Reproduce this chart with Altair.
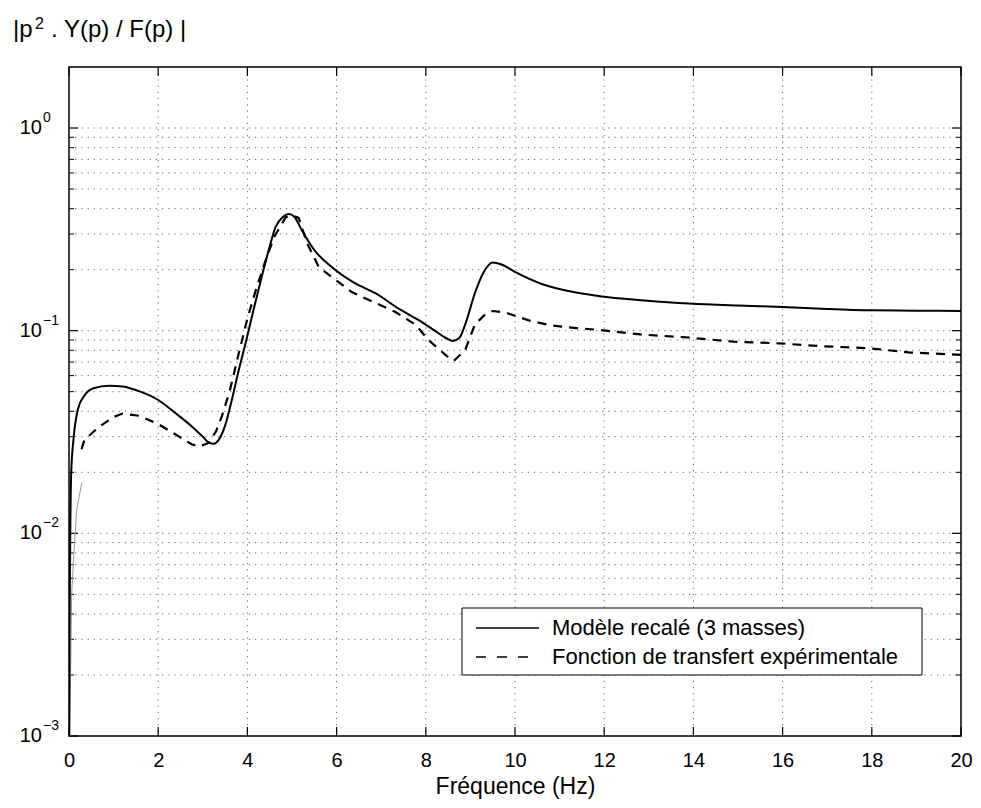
import altair as alt
import pandas as pd

# ---------------- data ----------------
freq_model = [0.005, 0.012, 0.02, 0.03, 0.05, 0.1, 0.2, 0.35, 0.55, 0.9, 1.2, 1.6, 2.0, 2.4, 2.76,
              3.0, 3.15, 3.25, 3.36, 3.5, 3.65, 3.8, 3.96, 4.15, 4.32, 4.5, 4.63, 4.8, 4.93, 5.05,
              5.22, 5.5, 5.89, 6.4, 6.87, 7.4, 7.83, 8.2, 8.45, 8.6, 8.75, 8.9, 9.1, 9.3, 9.5, 9.7,
              10.0, 10.6, 11.2, 11.9, 12.9, 13.9, 15.0, 16.0, 17.0, 18.0, 19.0, 20.0]
mag_model = [0.001, 0.003, 0.006, 0.011, 0.02, 0.029, 0.041, 0.048, 0.052, 0.0535, 0.053, 0.050,
             0.0455, 0.039, 0.0336, 0.030, 0.0279, 0.0277, 0.029, 0.034, 0.0455, 0.063, 0.087,
             0.13, 0.184, 0.26, 0.324, 0.365, 0.376, 0.365, 0.313, 0.25, 0.206, 0.172, 0.153,
             0.128, 0.113, 0.100, 0.092, 0.089, 0.092, 0.11, 0.153, 0.195, 0.217, 0.212, 0.195,
             0.170, 0.157, 0.148, 0.141, 0.136, 0.133, 0.131, 0.128, 0.126, 0.1255, 0.125]

freq_exp = [0.28, 0.35, 0.68, 1.0, 1.2, 1.58, 2.02, 2.47, 2.75, 2.92, 3.14, 3.3, 3.43, 3.6, 3.81,
            4.0, 4.19, 4.41, 4.6, 4.86, 5.0, 5.15, 5.34, 5.6, 5.98, 6.34, 6.87, 7.31, 7.77, 8.06,
            8.5, 8.63, 8.88, 9.1, 9.34, 9.5, 9.78, 10.33, 10.82, 11.38, 11.85, 12.81, 13.84,
            14.89, 15.92, 16.88, 17.91, 18.87, 20.0]
mag_exp = [0.026, 0.029, 0.0336, 0.0375, 0.039, 0.038, 0.0344, 0.030, 0.0275, 0.0268, 0.028,
           0.032, 0.038, 0.05, 0.0778, 0.115, 0.159, 0.223, 0.29, 0.363, 0.37, 0.36, 0.27, 0.206,
           0.178, 0.155, 0.137, 0.124, 0.107, 0.090, 0.074, 0.071, 0.08, 0.107, 0.121, 0.125,
           0.123, 0.112, 0.106, 0.103, 0.101, 0.0958, 0.0927, 0.0883, 0.0866, 0.0838, 0.082,
           0.078, 0.076]

freq_low = [0.015, 0.04, 0.06, 0.1, 0.17, 0.29]
mag_low = [0.001, 0.0024, 0.005, 0.0074, 0.013, 0.0178]

series_names = ["Modèle recalé (3 masses)", "Fonction de transfert expérimentale"]

x_ticks = [0, 2, 4, 6, 8, 10, 12, 14, 16, 18, 20]
x_grid = [2, 4, 6, 8, 10, 12, 14, 16, 18]
y_major = [0.001, 0.01, 0.1, 1]
y_major_exp = ["−3", "−2", "−1", "0"]
y_minor = [0.002, 0.003, 0.004, 0.005, 0.006, 0.007, 0.008, 0.009,
           0.02, 0.03, 0.04, 0.05, 0.06, 0.07, 0.08, 0.09,
           0.2, 0.3, 0.4, 0.5, 0.6, 0.7, 0.8, 0.9]

title_parts = ["|p", "2", ". Y(p) / F(p) |"]
x_title = "Fréquence (Hz)"

# ---------------- layout ----------------
W, H = 892, 669
FONT = "Liberation Sans"
GRID = "#666666"
DOT = [1.2, 5]

df_model = pd.DataFrame({"f": freq_model, "m": mag_model})
df_exp = pd.DataFrame({"f": freq_exp, "m": mag_exp})
df_low = pd.DataFrame({"f": freq_low, "m": mag_low})
df_xt = pd.DataFrame({"f": x_ticks})
df_xg = pd.DataFrame({"f": x_grid})
df_ymaj = pd.DataFrame({"m": y_major, "e": y_major_exp})
df_ymin = pd.DataFrame({"m": y_minor})
df_ygrid = pd.DataFrame({"m": y_minor + y_major[1:]})
one = pd.DataFrame({"k": [0]})

xscale = alt.Scale(domain=[0, 20], nice=False, zero=False)
yscale = alt.Scale(type="log", domain=[0.001, 2], nice=False)

xaxis = alt.Axis(values=x_ticks, format="d", grid=False, domain=False, ticks=False,
                 labelFont=FONT, labelFontSize=20, labelColor="black", labelPadding=30,
                 labelBaseline="alphabetic", labelFlush=False,
                 titleFont=FONT, titleFontSize=23, titleFontWeight="normal", titleColor="black",
                 titleBaseline="alphabetic", titleY=57)

X = alt.X("f:Q", scale=xscale, axis=xaxis, title=x_title)
Y = alt.Y("m:Q", scale=yscale, axis=None)

# grids
vgrid = alt.Chart(df_xg).mark_rule(color=GRID, strokeDash=DOT, strokeWidth=1).encode(
    x=X, y=alt.value(0), y2=alt.value(H))
hgrid = alt.Chart(df_ygrid).mark_rule(color=GRID, strokeDash=DOT, strokeWidth=1).encode(
    y=Y, x=alt.value(0), x2=alt.value(W))

# inward ticks
xt_bot = alt.Chart(df_xt).mark_rule(color="black", strokeWidth=1.2).encode(
    x=X, y=alt.value(H), y2=alt.value(H - 9))
xt_top = alt.Chart(df_xt).mark_rule(color="black", strokeWidth=1.2).encode(
    x=X, y=alt.value(0), y2=alt.value(9))
yt_l = alt.Chart(df_ymaj).mark_rule(color="black", strokeWidth=1.2).encode(
    y=Y, x=alt.value(0), x2=alt.value(9))
yt_r = alt.Chart(df_ymaj).mark_rule(color="black", strokeWidth=1.2).encode(
    y=Y, x=alt.value(W), x2=alt.value(W - 9))
ym_l = alt.Chart(df_ymin).mark_rule(color="black", strokeWidth=1).encode(
    y=Y, x=alt.value(0), x2=alt.value(5))
ym_r = alt.Chart(df_ymin).mark_rule(color="black", strokeWidth=1).encode(
    y=Y, x=alt.value(W), x2=alt.value(W - 5))

# y tick labels 10^k
ylab = alt.Chart(df_ymaj).mark_text(align="right", baseline="middle", font=FONT,
                                     fontSize=20, color="black").encode(
    y=Y, x=alt.value(-27), text=alt.value("10"))
yexp = alt.Chart(df_ymaj).mark_text(align="left", baseline="middle", font=FONT,
                                     fontSize=14, color="black", dy=-10).encode(
    y=Y, x=alt.value(-26), text="e:N")

# curves
low = alt.Chart(df_low).mark_line(color="#9a9a9a", strokeWidth=1, clip=True).encode(x=X, y=Y)
exp = alt.Chart(df_exp).mark_line(color="black", strokeWidth=2.2, strokeDash=[9, 7],
                                  clip=True).encode(x=X, y=Y)
model = alt.Chart(df_model).mark_line(color="black", strokeWidth=2, clip=True,
                                      interpolate="monotone").encode(x=X, y=Y)

# legend (box + samples + labels)
leg_box = alt.Chart(one).mark_rect(fill="white", stroke="black", strokeWidth=1).encode(
    x=alt.value(393), x2=alt.value(853), y=alt.value(541), y2=alt.value(608))
leg_l1 = alt.Chart(one).mark_rule(color="black", strokeWidth=1.5).encode(
    x=alt.value(407), x2=alt.value(470), y=alt.value(561))
leg_l2 = alt.Chart(one).mark_rule(color="black", strokeWidth=1.5, strokeDash=[10, 11]).encode(
    x=alt.value(407), x2=alt.value(470), y=alt.value(590))
leg_t1 = alt.Chart(one).mark_text(align="left", baseline="middle", font=FONT, fontSize=22,
                                   color="black").encode(
    x=alt.value(483), y=alt.value(561), text=alt.value(series_names[0]))
leg_t2 = alt.Chart(one).mark_text(align="left", baseline="middle", font=FONT, fontSize=22,
                                   color="black").encode(
    x=alt.value(483), y=alt.value(590), text=alt.value(series_names[1]))

# axis title at top-left: |p^2 . Y(p) / F(p)|
t1 = alt.Chart(one).mark_text(align="left", baseline="alphabetic", font=FONT, fontSize=24,
                               color="black").encode(
    x=alt.value(-56), y=alt.value(-30), text=alt.value(title_parts[0]))
t2 = alt.Chart(one).mark_text(align="left", baseline="alphabetic", font=FONT, fontSize=16,
                               color="black").encode(
    x=alt.value(-34), y=alt.value(-38), text=alt.value(title_parts[1]))
t3 = alt.Chart(one).mark_text(align="left", baseline="alphabetic", font=FONT, fontSize=24,
                               color="black").encode(
    x=alt.value(-18), y=alt.value(-30), text=alt.value(title_parts[2]))

chart = alt.layer(
    vgrid, hgrid, xt_bot, xt_top, yt_l, yt_r, ym_l, ym_r, ylab, yexp,
    low, exp, model, leg_box, leg_l1, leg_l2, leg_t1, leg_t2, t1, t2, t3
).properties(
    width=W, height=H,
    padding={"left": 61, "top": 59, "right": 12, "bottom": 64},
    autosize=alt.AutoSizeParams(type="none"),
).configure_view(stroke="black", strokeWidth=1.5)

chart.save("out.html", embed_options={"renderer": "svg", "actions": False})
